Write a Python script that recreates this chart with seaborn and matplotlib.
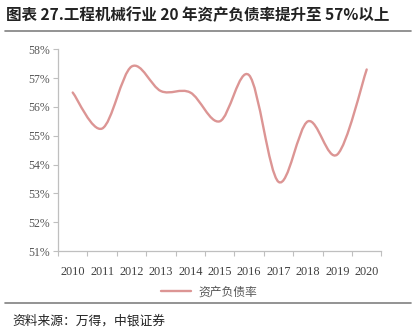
import numpy as np
import pandas as pd
import seaborn as sns
import matplotlib
matplotlib.use("Agg")
import matplotlib.pyplot as plt
from matplotlib.path import Path
from matplotlib.patches import PathPatch
from matplotlib.lines import Line2D

years = [2010, 2011, 2012, 2013, 2014, 2015, 2016, 2017, 2018, 2019, 2020]
debt_ratio = [56.5, 55.25, 57.4, 56.55, 56.5, 55.5, 57.1, 53.4, 55.5, 54.35, 57.3]
y_ticks = [51, 52, 53, 54, 55, 56, 57, 58]
series_name = "资产负债率"
title = "图表 27.工程机械行业 20 年资产负债率提升至 57%以上"
source = "资料来源：万得，中银证券"

sns.set_theme(style="white")
plt.rcParams["font.family"] = ["Noto Sans CJK SC", "DejaVu Sans"]

line_color = "#dc9594"
axis_color = "#bfbfbf"

fig = plt.figure(figsize=(4.17, 3.32), dpi=100)
ax = fig.add_axes([58 / 417, 1 - 251 / 332, (381.4 - 58) / 417, (251 - 49.3) / 332])

df = pd.DataFrame({"year": years, "ratio": debt_ratio})
sns.lineplot(data=df, x="year", y="ratio", ax=ax, color=line_color, lw=1.7)

# Replace the polyline with a smooth Bezier path through the same points
ln = ax.lines[0]
pts = ln.get_xydata()
ln.remove()
verts = [tuple(pts[0])]
codes = [Path.MOVETO]
n = len(pts)
for i in range(n - 1):
    p0 = pts[i - 1] if i > 0 else pts[i]
    p1 = pts[i]
    p2 = pts[i + 1]
    p3 = pts[i + 2] if i + 2 < n else pts[i + 1]
    c1 = p1 + (p2 - p0) / 6.0
    c2 = p2 - (p3 - p1) / 6.0
    verts += [tuple(c1), tuple(c2), tuple(p2)]
    codes += [Path.CURVE4] * 3
ax.add_patch(PathPatch(Path(verts, codes), facecolor="none", edgecolor=line_color,
                       lw=1.7, capstyle="round", joinstyle="round"))

ax.set_xlim(2009.5, 2020.5)
ax.set_ylim(51, 58)
ax.set_yticks(y_ticks)
ax.set_yticklabels([f"{v}%" for v in y_ticks])
ax.set_xticks(years)
ax.set_xticklabels([str(y) for y in years])
ax.set_xticks(np.arange(2009.5, 2021, 1), minor=True)
ax.set_xlabel("")
ax.set_ylabel("")

for s in ["top", "right"]:
    ax.spines[s].set_visible(False)
for s in ["left", "bottom"]:
    ax.spines[s].set_color(axis_color)
    ax.spines[s].set_linewidth(0.9)

serif = ["Liberation Serif", "DejaVu Serif"]
ax.tick_params(axis="y", which="major", left=True, length=3.5, width=0.8, color=axis_color,
               labelsize=8.5, labelcolor="#555555", pad=2)
ax.tick_params(axis="x", which="major", bottom=False, labelsize=8.8, labelcolor="#404040", pad=5)
ax.tick_params(axis="x", which="minor", bottom=True, length=3.5, width=0.8, color=axis_color)
for lab in ax.get_yticklabels() + ax.get_xticklabels():
    lab.set_fontfamily(serif)

handle = Line2D([], [], color=line_color, lw=1.7)
fig.legend([handle], [series_name], loc="center", bbox_to_anchor=(209 / 417, 1 - 292 / 332),
           frameon=False, fontsize=8.5, handlelength=2.6, handletextpad=0.6,
           labelcolor="#555555")

fig.text(6 / 417, 1 - 15 / 332, title, fontsize=11.2, fontweight="bold", color="#222222",
         va="center", ha="left")
fig.add_artist(Line2D([5 / 417, 411 / 417], [1 - 31 / 332] * 2, color="#808080", lw=1.2))
fig.add_artist(Line2D([5 / 417, 411 / 417], [1 - 303 / 332] * 2, color="#808080", lw=1.2))
fig.text(12 / 417, 1 - 321 / 332, source, fontsize=9.2, style="italic", color="#222222",
         va="center", ha="left")

fig.savefig("out.png", dpi=100, facecolor="white")
